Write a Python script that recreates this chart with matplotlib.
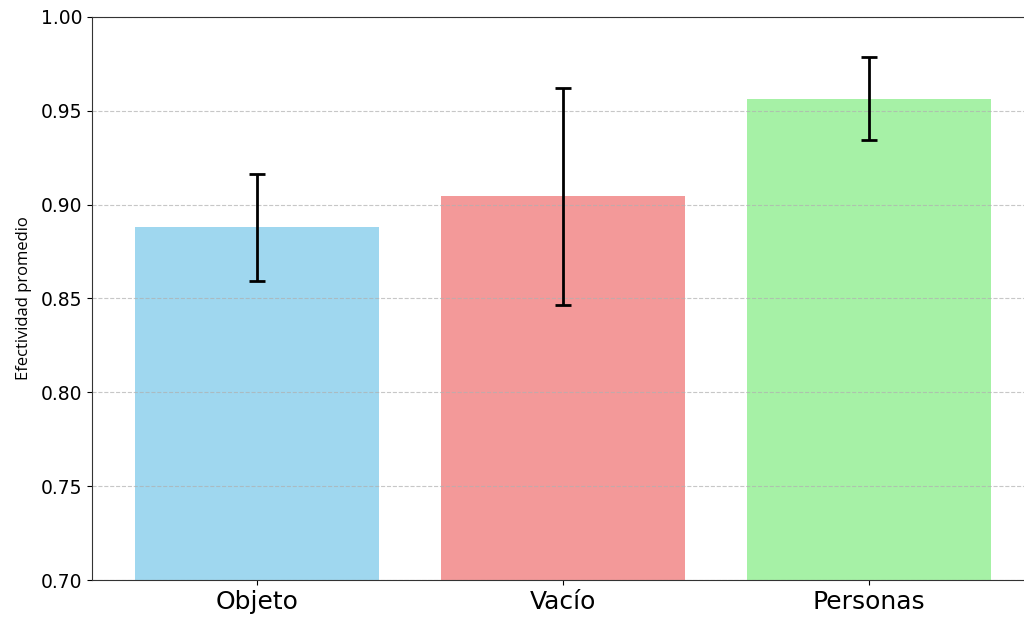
import matplotlib
matplotlib.use('Agg')
import matplotlib.pyplot as plt
import numpy as np

# mean effectiveness per scene type, with std deviation
categorias = ['Objeto', 'Vacío', 'Personas']
efectividad = [0.888, 0.9045, 0.9565]
desviacion = [0.0285, 0.0578, 0.0222]
colores = ['skyblue', 'lightcoral', 'lightgreen']

fig = plt.figure(figsize=(10.24, 6.24), dpi=100)
ax = fig.add_axes([0.0898, 0.0705, 0.92, 0.9023])

x = np.arange(len(categorias))
ax.bar(x, efectividad, yerr=desviacion, color=colores, alpha=0.8,
       width=0.8, capsize=6, error_kw={'elinewidth': 2, 'capthick': 2, 'ecolor': 'black'})

ax.set_ylim(0.70, 1.00)
ax.set_xticks(x)
ax.set_xticklabels(categorias, fontsize=18)
ax.tick_params(axis='y', labelsize=13.5)
ax.set_ylabel('Efectividad promedio', fontsize=12, labelpad=6,
              family=['Open Sans', 'DejaVu Sans'])
ax.yaxis.grid(True, linestyle='--', alpha=0.7)
for s in ax.spines.values():
    s.set_color('#333333')

fig.savefig('out.png', dpi=100)
